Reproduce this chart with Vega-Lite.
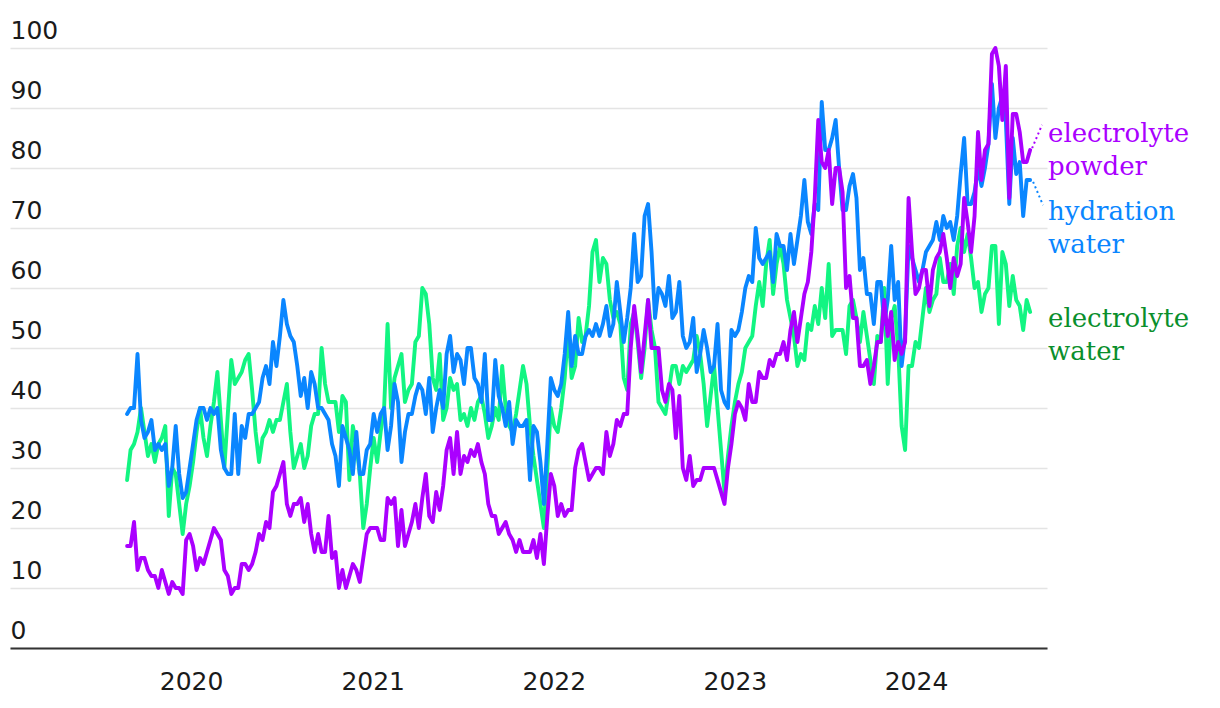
{
"$schema": "https://vega.github.io/schema/vega-lite/v6.json",
"width": 1037, "height": 600,
"autosize": {"type": "none"},
"padding": {"left": 10, "top": 48, "right": 173, "bottom": 60},
"background": "white",
"config": {"view": {"stroke": null}},
"datasets": {
"trend": [
{"d":"2019-08-25","p":17,"h":39,"e":28},{"d":"2019-09-01","p":17,"h":40,"e":33},{"d":"2019-09-08","p":21,"h":40,"e":34},{"d":"2019-09-15","p":13,"h":49,"e":36},{"d":"2019-09-22","p":15,"h":38,"e":40},{"d":"2019-09-29","p":15,"h":35,"e":36},{"d":"2019-10-06","p":13,"h":36,"e":32},{"d":"2019-10-13","p":12,"h":38,"e":34},{"d":"2019-10-20","p":12,"h":33,"e":31},{"d":"2019-10-27","p":10,"h":34,"e":34},
{"d":"2019-11-03","p":13,"h":33,"e":35},{"d":"2019-11-10","p":11,"h":34,"e":37},{"d":"2019-11-17","p":9,"h":27,"e":22},{"d":"2019-11-24","p":11,"h":30,"e":30},{"d":"2019-12-01","p":10,"h":37,"e":29},{"d":"2019-12-08","p":10,"h":29,"e":24},{"d":"2019-12-15","p":9,"h":25,"e":19},{"d":"2019-12-22","p":18,"h":26,"e":24},{"d":"2019-12-29","p":19,"h":30,"e":27},{"d":"2020-01-05","p":17,"h":34,"e":31},
{"d":"2020-01-12","p":13,"h":38,"e":36},{"d":"2020-01-19","p":15,"h":40,"e":40},{"d":"2020-01-26","p":14,"h":40,"e":35},{"d":"2020-02-02","p":16,"h":38,"e":32},{"d":"2020-02-09","p":18,"h":40,"e":37},{"d":"2020-02-16","p":20,"h":39,"e":41},{"d":"2020-02-23","p":19,"h":40,"e":46},{"d":"2020-03-01","p":18,"h":33,"e":38},{"d":"2020-03-08","p":13,"h":30,"e":30},{"d":"2020-03-15","p":12,"h":29,"e":39},
{"d":"2020-03-22","p":9,"h":29,"e":48},{"d":"2020-03-29","p":10,"h":39,"e":44},{"d":"2020-04-05","p":10,"h":29,"e":45},{"d":"2020-04-12","p":14,"h":37,"e":46},{"d":"2020-04-19","p":14,"h":35,"e":48},{"d":"2020-04-26","p":13,"h":39,"e":49},{"d":"2020-05-03","p":14,"h":39,"e":43},{"d":"2020-05-10","p":16,"h":40,"e":36},{"d":"2020-05-17","p":19,"h":41,"e":31},{"d":"2020-05-24","p":18,"h":45,"e":35},
{"d":"2020-05-31","p":21,"h":47,"e":36},{"d":"2020-06-07","p":20,"h":44,"e":38},{"d":"2020-06-14","p":26,"h":51,"e":36},{"d":"2020-06-21","p":27,"h":47,"e":38},{"d":"2020-06-28","p":29,"h":52,"e":38},{"d":"2020-07-05","p":31,"h":58,"e":41},{"d":"2020-07-12","p":24,"h":54,"e":44},{"d":"2020-07-19","p":22,"h":52,"e":36},{"d":"2020-07-26","p":24,"h":51,"e":30},{"d":"2020-08-02","p":24,"h":47,"e":32},
{"d":"2020-08-09","p":25,"h":42,"e":34},{"d":"2020-08-16","p":21,"h":45,"e":30},{"d":"2020-08-23","p":24,"h":40,"e":32},{"d":"2020-08-30","p":19,"h":46,"e":37},{"d":"2020-09-06","p":16,"h":44,"e":39},{"d":"2020-09-13","p":19,"h":40,"e":39},{"d":"2020-09-20","p":16,"h":40,"e":50},{"d":"2020-09-27","p":16,"h":39,"e":44},{"d":"2020-10-04","p":22,"h":38,"e":41},{"d":"2020-10-11","p":15,"h":34,"e":41},
{"d":"2020-10-18","p":16,"h":32,"e":41},{"d":"2020-10-25","p":10,"h":27,"e":36},{"d":"2020-11-01","p":13,"h":37,"e":42},{"d":"2020-11-08","p":10,"h":35,"e":41},{"d":"2020-11-15","p":12,"h":33,"e":28},{"d":"2020-11-22","p":14,"h":29,"e":37},{"d":"2020-11-29","p":13,"h":36,"e":34},{"d":"2020-12-06","p":11,"h":29,"e":29},{"d":"2020-12-13","p":15,"h":29,"e":20},{"d":"2020-12-20","p":19,"h":33,"e":24},
{"d":"2020-12-27","p":20,"h":34,"e":30},{"d":"2021-01-03","p":20,"h":39,"e":35},{"d":"2021-01-10","p":20,"h":36,"e":31},{"d":"2021-01-17","p":18,"h":39,"e":36},{"d":"2021-01-24","p":18,"h":40,"e":40},{"d":"2021-01-31","p":25,"h":33,"e":54},{"d":"2021-02-07","p":24,"h":37,"e":40},{"d":"2021-02-14","p":25,"h":44,"e":45},{"d":"2021-02-21","p":17,"h":41,"e":47},{"d":"2021-02-28","p":23,"h":31,"e":49},
{"d":"2021-03-07","p":17,"h":36,"e":41},{"d":"2021-03-14","p":19,"h":39,"e":43},{"d":"2021-03-21","p":21,"h":39,"e":44},{"d":"2021-03-28","p":24,"h":42,"e":51},{"d":"2021-04-04","p":20,"h":44,"e":52},{"d":"2021-04-11","p":25,"h":43,"e":60},{"d":"2021-04-18","p":29,"h":39,"e":59},{"d":"2021-04-25","p":22,"h":45,"e":54},{"d":"2021-05-02","p":21,"h":36,"e":45},{"d":"2021-05-09","p":26,"h":40,"e":43},
{"d":"2021-05-16","p":23,"h":43,"e":49},{"d":"2021-05-23","p":27,"h":40,"e":38},{"d":"2021-05-30","p":33,"h":49,"e":40},{"d":"2021-06-06","p":35,"h":52,"e":45},{"d":"2021-06-13","p":29,"h":46,"e":43},{"d":"2021-06-20","p":36,"h":49,"e":44},{"d":"2021-06-27","p":29,"h":48,"e":38},{"d":"2021-07-04","p":32,"h":44,"e":39},{"d":"2021-07-11","p":31,"h":50,"e":37},{"d":"2021-07-18","p":33,"h":50,"e":40},
{"d":"2021-07-25","p":32,"h":45,"e":38},{"d":"2021-08-01","p":34,"h":44,"e":41},{"d":"2021-08-08","p":31,"h":41,"e":42},{"d":"2021-08-15","p":29,"h":49,"e":39},{"d":"2021-08-22","p":24,"h":38,"e":35},{"d":"2021-08-29","p":22,"h":38,"e":37},{"d":"2021-09-05","p":22,"h":48,"e":40},{"d":"2021-09-12","p":19,"h":42,"e":38},{"d":"2021-09-19","p":20,"h":40,"e":47},{"d":"2021-09-26","p":21,"h":37,"e":40},
{"d":"2021-10-03","p":19,"h":41,"e":37},{"d":"2021-10-10","p":18,"h":34,"e":36},{"d":"2021-10-17","p":16,"h":38,"e":39},{"d":"2021-10-24","p":18,"h":37,"e":43},{"d":"2021-10-31","p":16,"h":37,"e":47},{"d":"2021-11-07","p":16,"h":38,"e":44},{"d":"2021-11-14","p":16,"h":28,"e":37},{"d":"2021-11-21","p":18,"h":37,"e":32},{"d":"2021-11-28","p":15,"h":36,"e":28},{"d":"2021-12-05","p":19,"h":31,"e":24},
{"d":"2021-12-12","p":14,"h":24,"e":20},{"d":"2021-12-19","p":22,"h":34,"e":30},{"d":"2021-12-26","p":29,"h":45,"e":40},{"d":"2022-01-02","p":27,"h":43,"e":37},{"d":"2022-01-09","p":22,"h":42,"e":36},{"d":"2022-01-16","p":24,"h":44,"e":40},{"d":"2022-01-23","p":22,"h":49,"e":45},{"d":"2022-01-30","p":23,"h":56,"e":53},{"d":"2022-02-06","p":23,"h":47,"e":45},{"d":"2022-02-13","p":30,"h":52,"e":47},
{"d":"2022-02-20","p":33,"h":49,"e":55},{"d":"2022-02-27","p":34,"h":49,"e":51},{"d":"2022-03-06","p":31,"h":52,"e":52},{"d":"2022-03-13","p":28,"h":53,"e":57},{"d":"2022-03-20","p":29,"h":52,"e":66},{"d":"2022-03-27","p":30,"h":54,"e":68},{"d":"2022-04-03","p":30,"h":52,"e":61},{"d":"2022-04-10","p":29,"h":54,"e":65},{"d":"2022-04-17","p":36,"h":57,"e":64},{"d":"2022-04-24","p":32,"h":52,"e":58},
{"d":"2022-05-01","p":34,"h":54,"e":55},{"d":"2022-05-08","p":38,"h":61,"e":56},{"d":"2022-05-15","p":37,"h":56,"e":54},{"d":"2022-05-22","p":39,"h":51,"e":45},{"d":"2022-05-29","p":39,"h":55,"e":43},{"d":"2022-06-05","p":50,"h":60,"e":54},{"d":"2022-06-12","p":57,"h":69,"e":56},{"d":"2022-06-19","p":52,"h":61,"e":51},{"d":"2022-06-26","p":46,"h":62,"e":45},{"d":"2022-07-03","p":52,"h":72,"e":50},
{"d":"2022-07-10","p":58,"h":74,"e":58},{"d":"2022-07-17","p":50,"h":66,"e":53},{"d":"2022-07-24","p":50,"h":55,"e":50},{"d":"2022-07-31","p":50,"h":60,"e":41},{"d":"2022-08-07","p":43,"h":59,"e":40},{"d":"2022-08-14","p":41,"h":57,"e":39},{"d":"2022-08-21","p":44,"h":62,"e":43},{"d":"2022-08-28","p":43,"h":55,"e":47},{"d":"2022-09-04","p":35,"h":56,"e":47},{"d":"2022-09-11","p":42,"h":61,"e":44},
{"d":"2022-09-18","p":30,"h":52,"e":47},{"d":"2022-09-25","p":28,"h":50,"e":46},{"d":"2022-10-02","p":32,"h":51,"e":47},{"d":"2022-10-09","p":27,"h":55,"e":48},{"d":"2022-10-16","p":28,"h":46,"e":52},{"d":"2022-10-23","p":28,"h":49,"e":49},{"d":"2022-10-30","p":30,"h":53,"e":44},{"d":"2022-11-06","p":30,"h":50,"e":37},{"d":"2022-11-13","p":30,"h":46,"e":42},{"d":"2022-11-20","p":30,"h":47,"e":47},
{"d":"2022-11-27","p":28,"h":54,"e":40},{"d":"2022-12-04","p":26,"h":43,"e":33},{"d":"2022-12-11","p":24,"h":41,"e":26},{"d":"2022-12-18","p":30,"h":40,"e":32},{"d":"2022-12-25","p":34,"h":53,"e":37},{"d":"2023-01-01","p":39,"h":52,"e":41},{"d":"2023-01-08","p":41,"h":53,"e":44},{"d":"2023-01-15","p":40,"h":56,"e":46},{"d":"2023-01-22","p":38,"h":60,"e":50},{"d":"2023-01-29","p":44,"h":62,"e":51},
{"d":"2023-02-05","p":41,"h":61,"e":52},{"d":"2023-02-12","p":41,"h":70,"e":57},{"d":"2023-02-19","p":46,"h":65,"e":61},{"d":"2023-02-26","p":45,"h":64,"e":57},{"d":"2023-03-05","p":45,"h":65,"e":64},{"d":"2023-03-12","p":48,"h":66,"e":68},{"d":"2023-03-19","p":47,"h":61,"e":59},{"d":"2023-03-26","p":49,"h":69,"e":64},{"d":"2023-04-02","p":49,"h":67,"e":67},{"d":"2023-04-09","p":51,"h":67,"e":64},
{"d":"2023-04-16","p":48,"h":63,"e":58},{"d":"2023-04-23","p":53,"h":69,"e":55},{"d":"2023-04-30","p":56,"h":64,"e":52},{"d":"2023-05-07","p":51,"h":68,"e":47},{"d":"2023-05-14","p":55,"h":72,"e":49},{"d":"2023-05-21","p":59,"h":78,"e":48},{"d":"2023-05-28","p":61,"h":71,"e":54},{"d":"2023-06-04","p":66,"h":69,"e":53},{"d":"2023-06-11","p":75,"h":74,"e":57},{"d":"2023-06-18","p":88,"h":73,"e":54},
{"d":"2023-06-25","p":81,"h":91,"e":60},{"d":"2023-07-02","p":80,"h":83,"e":55},{"d":"2023-07-09","p":83,"h":83,"e":64},{"d":"2023-07-16","p":74,"h":85,"e":52},{"d":"2023-07-23","p":80,"h":88,"e":53},{"d":"2023-07-30","p":80,"h":80,"e":53},{"d":"2023-08-06","p":76,"h":73,"e":53},{"d":"2023-08-13","p":60,"h":73,"e":49},{"d":"2023-08-20","p":62,"h":77,"e":57},{"d":"2023-08-27","p":55,"h":79,"e":58},
{"d":"2023-09-03","p":55,"h":75,"e":55},{"d":"2023-09-10","p":47,"h":63,"e":51},{"d":"2023-09-17","p":47,"h":65,"e":56},{"d":"2023-09-24","p":48,"h":59,"e":52},{"d":"2023-10-01","p":44,"h":59,"e":48},{"d":"2023-10-08","p":47,"h":54,"e":44},{"d":"2023-10-15","p":51,"h":61,"e":52},{"d":"2023-10-22","p":51,"h":61,"e":51},{"d":"2023-10-29","p":58,"h":54,"e":60},{"d":"2023-11-05","p":52,"h":58,"e":44},
{"d":"2023-11-12","p":56,"h":67,"e":55},{"d":"2023-11-19","p":48,"h":58,"e":57},{"d":"2023-11-26","p":51,"h":61,"e":50},{"d":"2023-12-03","p":49,"h":47,"e":37},{"d":"2023-12-10","p":51,"h":52,"e":33},{"d":"2023-12-17","p":75,"h":67,"e":47},{"d":"2023-12-24","p":66,"h":65,"e":47},{"d":"2023-12-31","p":59,"h":63,"e":51},{"d":"2024-01-07","p":60,"h":61,"e":50},{"d":"2024-01-14","p":63,"h":63,"e":55},
{"d":"2024-01-21","p":63,"h":66,"e":60},{"d":"2024-01-28","p":57,"h":67,"e":56},{"d":"2024-02-04","p":63,"h":68,"e":58},{"d":"2024-02-11","p":65,"h":71,"e":59},{"d":"2024-02-18","p":66,"h":68,"e":65},{"d":"2024-02-25","p":69,"h":72,"e":61},{"d":"2024-03-03","p":65,"h":70,"e":61},{"d":"2024-03-10","p":60,"h":71,"e":64},{"d":"2024-03-17","p":65,"h":68,"e":59},{"d":"2024-03-24","p":62,"h":72,"e":67},
{"d":"2024-03-31","p":64,"h":79,"e":70},{"d":"2024-04-07","p":75,"h":85,"e":66},{"d":"2024-04-14","p":71,"h":74,"e":69},{"d":"2024-04-21","p":66,"h":74,"e":65},{"d":"2024-04-28","p":72,"h":76,"e":60},{"d":"2024-05-05","p":86,"h":80,"e":61},{"d":"2024-05-12","p":78,"h":77,"e":56},{"d":"2024-05-19","p":83,"h":80,"e":59},{"d":"2024-05-26","p":84,"h":84,"e":60},{"d":"2024-06-02","p":99,"h":94,"e":67},
{"d":"2024-06-09","p":100,"h":85,"e":67},{"d":"2024-06-16","p":97,"h":90,"e":54},{"d":"2024-06-23","p":88,"h":92,"e":66},{"d":"2024-06-30","p":97,"h":88,"e":64},{"d":"2024-07-07","p":75,"h":74,"e":57},{"d":"2024-07-14","p":89,"h":85,"e":62},{"d":"2024-07-21","p":89,"h":79,"e":58},{"d":"2024-07-28","p":86,"h":81,"e":57},{"d":"2024-08-04","p":81,"h":72,"e":53},{"d":"2024-08-11","p":81,"h":78,"e":58},
{"d":"2024-08-18","p":83,"h":78,"e":56}
],
"labels": [
{"s":"p","t":["electrolyte","powder"],"d":"2024-09-23","v":84.4},
{"s":"h","t":["hydration","water"],"d":"2024-09-23","v":71.3},
{"s":"e","t":["electrolyte","water"],"d":"2024-09-23","v":53.5}
],
"connectors": [
{"s":"p","d1":"2024-08-22","v1":83.3,"d2":"2024-09-11","v2":87.2},
{"s":"h","d1":"2024-08-24","v1":77.7,"d2":"2024-09-13","v2":73.8}
]
},
"layer": [
{
"data": {"name": "trend"},
"mark": {"type": "line", "color": "#12f582", "strokeWidth": 3.9, "strokeJoin": "round", "strokeCap": "round"},
"encoding": {
"x": {"field": "d", "type": "temporal",
"scale": {"type": "utc", "domain": [{"year": 2019, "month": 1, "date": 1, "utc": true}, {"year": 2024, "month": 9, "date": 21, "utc": true}]},
"axis": {"title": null, "format": "%Y", "formatType": "utc",
"values": [{"year": 2020, "month": 1, "date": 1, "utc": true}, {"year": 2021, "month": 1, "date": 1, "utc": true}, {"year": 2022, "month": 1, "date": 1, "utc": true}, {"year": 2023, "month": 1, "date": 1, "utc": true}, {"year": 2024, "month": 1, "date": 1, "utc": true}],
"grid": false, "ticks": false, "tickSize": 0, "domain": true, "domainColor": "#333333", "domainWidth": 2,
"labelFont": "DejaVu Sans", "labelFontSize": 25, "labelColor": "#1a1a1a", "labelPadding": 21, "labelFlush": false, "labelOverlap": false}},
"y": {"field": "e", "type": "quantitative",
"scale": {"domain": [0, 100]},
"axis": {"title": null, "values": [0, 10, 20, 30, 40, 50, 60, 70, 80, 90, 100],
"grid": true, "gridColor": "#e4e4e4", "gridWidth": 1.5, "domain": false, "ticks": false, "tickSize": 0,
"labelAlign": "left", "labelBaseline": "alphabetic", "labelPadding": 0, "labelOffset": -10,
"labelFont": "DejaVu Sans", "labelFontSize": 25, "labelColor": "#1a1a1a"}}
}
},
{
"data": {"name": "trend"},
"mark": {"type": "line", "color": "#0a86ff", "strokeWidth": 3.9, "strokeJoin": "round", "strokeCap": "round"},
"encoding": {
"x": {"field": "d", "type": "temporal"},
"y": {"field": "h", "type": "quantitative"}
}
},
{
"data": {"name": "trend"},
"mark": {"type": "line", "color": "#aa00ff", "strokeWidth": 3.9, "strokeJoin": "round", "strokeCap": "round"},
"encoding": {
"x": {"field": "d", "type": "temporal"},
"y": {"field": "p", "type": "quantitative"}
}
},
{
"data": {"name": "connectors"},
"mark": {"type": "rule", "strokeDash": [2, 3], "strokeWidth": 2},
"encoding": {
"x": {"field": "d1", "type": "temporal"},
"x2": {"field": "d2"},
"y": {"field": "v1", "type": "quantitative"},
"y2": {"field": "v2"},
"color": {"field": "s", "type": "nominal", "scale": {"domain": ["p", "h", "e"], "range": ["#aa00ff", "#0a86ff", "#0a8f2c"]}, "legend": null}
}
},
{
"data": {"name": "labels"},
"mark": {"type": "text", "align": "left", "baseline": "alphabetic", "font": "DejaVu Serif", "fontSize": 26, "lineHeight": 33},
"encoding": {
"x": {"field": "d", "type": "temporal"},
"y": {"field": "v", "type": "quantitative"},
"text": {"field": "t"},
"color": {"field": "s", "type": "nominal", "scale": {"domain": ["p", "h", "e"], "range": ["#aa00ff", "#0a86ff", "#0a8f2c"]}, "legend": null}
}
}
]
}
